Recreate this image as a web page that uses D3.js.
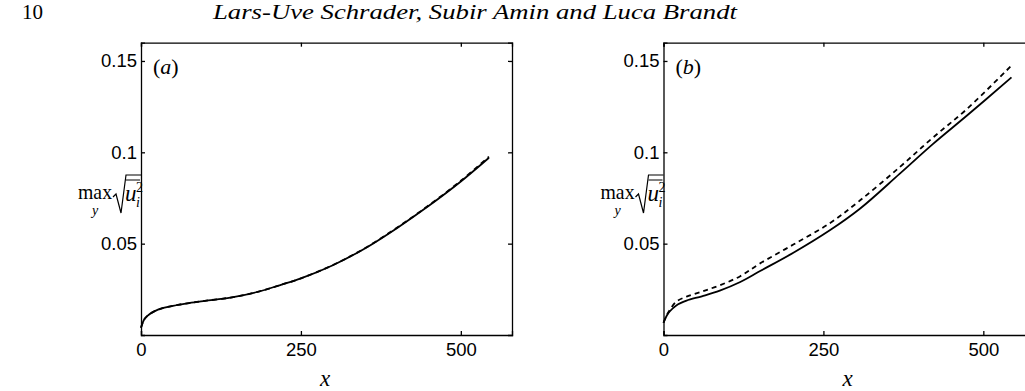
<!DOCTYPE html>
<html>
<head>
<meta charset="utf-8">
<script src="https://cdn.jsdelivr.net/npm/d3@7"></script>
<style>
  body { margin: 0; background: #fff; }
  svg { display: block; }
  .tick text { font-family: "Liberation Sans", Arial, sans-serif; font-size: 18.5px; fill: #000; }
  .serif { font-family: "Liberation Serif", "Times New Roman", serif; fill: #000; }
</style>
</head>
<body>
<svg width="1025" height="391"></svg>
<script>
// Data ======================================================
var xTicks = [0, 250, 500];
var yTicks = [0.05, 0.1, 0.15];

// panel (a)
var xA = [0, 5, 10, 20, 35, 50, 75, 100, 140, 180, 220, 250, 300, 350, 400, 450, 500, 544];
var solidA = [0.0040, 0.0085, 0.0105, 0.0128, 0.0148, 0.0160, 0.0175, 0.0187, 0.0205, 0.0234, 0.0276, 0.0310, 0.0382, 0.0474, 0.0585, 0.0707, 0.0840, 0.0970];
var dashedA = [0.0040, 0.0085, 0.0105, 0.0128, 0.0148, 0.0160, 0.0175, 0.0187, 0.0205, 0.0234, 0.0276, 0.0310, 0.0383, 0.0475, 0.0587, 0.0710, 0.0844, 0.0976];

// panel (b)
var xB = [0, 5, 10, 20, 36, 60, 88, 120, 151, 203, 260, 307, 369, 421, 474, 544];
var solidB = [0.0067, 0.0105, 0.0130, 0.0162, 0.0188, 0.0212, 0.0243, 0.0290, 0.0350, 0.0450, 0.0573, 0.0691, 0.0882, 0.1045, 0.1200, 0.1410];
var dashedB = [0.0067, 0.0108, 0.0138, 0.0183, 0.0210, 0.0238, 0.0272, 0.0322, 0.0392, 0.0495, 0.0612, 0.0736, 0.0918, 0.1080, 0.1236, 0.1475];

var panels = [
  { label: "a", left: 141, right: 512, x: xA, solid: solidA, dashed: dashedA },
  { label: "b", left: 663.5, right: 1034.5, x: xB, solid: solidB, dashed: dashedB }
];

// Layout ====================================================
var svg = d3.select("svg");
var top_ = 42.7, bottom = 335;

// page header
svg.append("text").attr("class", "serif")
  .attr("x", 22).attr("y", 19)
  .style("font-size", "21px")
  .text("10");
svg.append("text").attr("class", "serif")
  .attr("x", 475).attr("y", 19)
  .attr("text-anchor", "middle")
  .attr("textLength", 524).attr("lengthAdjust", "spacingAndGlyphs")
  .style("font-size", "21px").style("font-style", "italic")
  .text("Lars-Uve Schrader, Subir Amin and Luca Brandt");

function drawPanel(p) {
  var x = d3.scaleLinear().domain([0, 580]).range([p.left, p.right]);
  var y = d3.scaleLinear().domain([0, 0.16]).range([bottom, top_]);
  var g = svg.append("g");

  // curves
  var line = d3.line()
    .x(function(d) { return x(d[0]); })
    .y(function(d) { return y(d[1]); })
    .curve(d3.curveCatmullRom.alpha(0.5));

  g.append("path")
    .datum(p.x.map(function(v, i) { return [v, p.dashed[i]]; }))
    .attr("d", line)
    .attr("fill", "none").attr("stroke", "#000")
    .attr("stroke-width", 1.8).attr("stroke-dasharray", "5,4");
  g.append("path")
    .datum(p.x.map(function(v, i) { return [v, p.solid[i]]; }))
    .attr("d", line)
    .attr("fill", "none").attr("stroke", "#000")
    .attr("stroke-width", 1.8);

  // axes, ticks inward on all four sides
  g.append("g").attr("transform", "translate(0," + bottom + ")")
    .call(d3.axisBottom(x).tickValues(xTicks).tickSize(-4).tickPadding(8).tickFormat(d3.format("d")));
  g.append("g").attr("transform", "translate(0," + top_ + ")")
    .call(d3.axisTop(x).tickValues(xTicks).tickSize(-4).tickFormat(""));
  g.append("g").attr("transform", "translate(" + p.left + ",0)")
    .call(d3.axisLeft(y).tickValues(yTicks).tickSize(-4).tickPadding(4).tickFormat(function(d) { return String(d); }));
  g.append("g").attr("transform", "translate(" + p.right + ",0)")
    .call(d3.axisRight(y).tickValues(yTicks).tickSize(-4).tickFormat(""));
  g.selectAll(".domain, .tick line").attr("stroke", "#000").attr("stroke-width", 1.3);

  // panel label
  g.append("text").attr("class", "serif")
    .attr("x", p.left + 12).attr("y", 74)
    .style("font-size", "22px")
    .html("(<tspan font-style='italic'>" + p.label + "</tspan>)");

  // x label
  g.append("text").attr("class", "serif")
    .attr("x", p.left + 184).attr("y", 386)
    .attr("text-anchor", "middle")
    .style("font-size", "23px").style("font-style", "italic")
    .text("x");

  // y label: max_y sqrt(overline(u_i^2))
  var lx = p.left - 63;
  var yl = g.append("g").attr("transform", "translate(" + lx + ",0)");
  yl.append("text").attr("class", "serif")
    .attr("x", 0).attr("y", 199)
    .attr("textLength", 34).attr("lengthAdjust", "spacingAndGlyphs")
    .style("font-size", "21px").text("max");
  yl.append("text").attr("class", "serif")
    .attr("x", 14).attr("y", 215).style("font-size", "14px").style("font-style", "italic").text("y");
  yl.append("path")
    .attr("d", "M35,197 L38,194 L43,213 L48,175 L63,175")
    .attr("fill", "none").attr("stroke", "#000").attr("stroke-width", 1.2);
  yl.append("line")
    .attr("x1", 48).attr("x2", 62).attr("y1", 180).attr("y2", 180)
    .attr("stroke", "#000").attr("stroke-width", 1);
  yl.append("text").attr("class", "serif")
    .attr("x", 47).attr("y", 201).style("font-size", "23px").style("font-style", "italic").text("u");
  yl.append("text").attr("class", "serif")
    .attr("x", 58).attr("y", 192).style("font-size", "14px").text("2");
  yl.append("text").attr("class", "serif")
    .attr("x", 58).attr("y", 207).style("font-size", "14px").style("font-style", "italic").text("i");
}

panels.forEach(drawPanel);
</script>
</body>
</html>
